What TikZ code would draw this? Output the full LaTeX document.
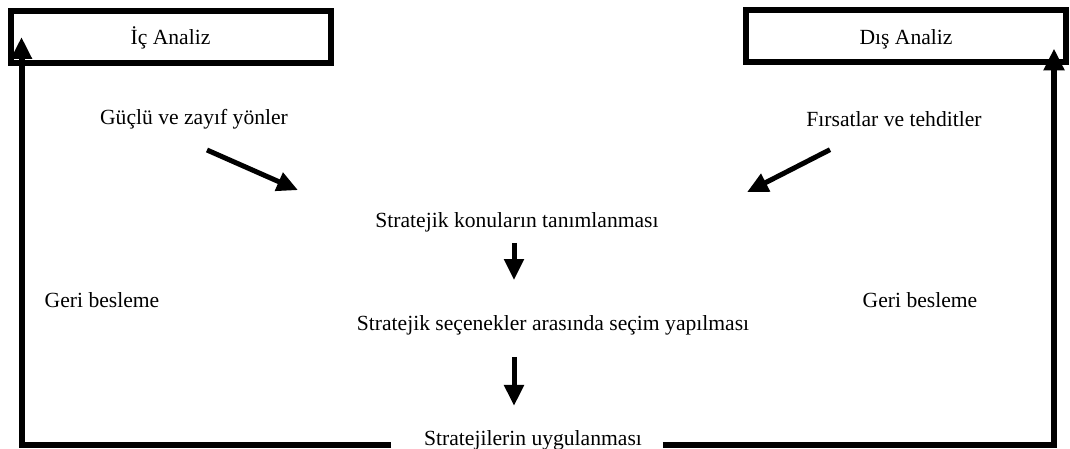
\documentclass[tikz,border=0pt]{standalone}
\usepackage{fontspec}
\setmainfont{Liberation Serif}
\usetikzlibrary{arrows.meta}
\begin{document}
\begin{tikzpicture}[x=0.5pt,y=-0.5pt,font=\fontsize{10.8}{13}\selectfont,
    analysisbox/.style={draw,line width=3pt,minimum width=160pt,minimum height=26pt,text height=9pt,text depth=1pt},
    feedback/.style={line width=3pt,-{Triangle[length=11pt,width=10pt]}},
    flow/.style={line width=2.5pt,-{Triangle[length=10.5pt,width=9.5pt]}}]
    \useasboundingbox (0,0) rectangle (1070,449);

    \node[analysisbox] (ic) at (170.5,37) {İç Analiz};
    \node[analysisbox] (dis) at (906,36.5) {Dış Analiz};

    \node (guclu) at (194,119) {Güçlü ve zayıf yönler};
    \node (firsat) at (894,119) {Fırsatlar ve tehditler};

    \node (tanim) at (517,222) {Stratejik konuların tanımlanması};
    \node (secim) at (553,325) {Stratejik seçenekler arasında seçim yapılması};
    \node[anchor=base] (uygula) at (533,445) {Stratejilerin uygulanması};

    \node (geril) at (102,300) {Geri besleme};
    \node (gerir) at (920,300) {Geri besleme};

    \draw[flow] ([xshift=6.5pt,yshift=-7pt]guclu.south) -- ([xshift=-109.5pt,yshift=7.5pt]tanim.north);
    \draw[flow] ([xshift=-32pt,yshift=-8pt]firsat.south) -- ([xshift=115pt,yshift=6.5pt]tanim.north);
    \draw[flow] ([xshift=-1.5pt,yshift=-2pt]tanim.south) -- ([xshift=-1.5pt,yshift=14pt]tanim.south |- secim.north);
    \draw[flow] ([xshift=-1.5pt,yshift=-7.5pt]tanim.south |- secim.south) -- ([xshift=-1.5pt,yshift=8.5pt]tanim.south |- uygula.north);

    \draw[feedback,shorten <=13pt] (uygula.base west) -| ([xshift=7pt]ic.west);
    \draw[feedback,shorten <=7pt] (uygula.base east) -| ([xshift=-7.5pt,yshift=-6pt]dis.east);
\end{tikzpicture}
\end{document}
